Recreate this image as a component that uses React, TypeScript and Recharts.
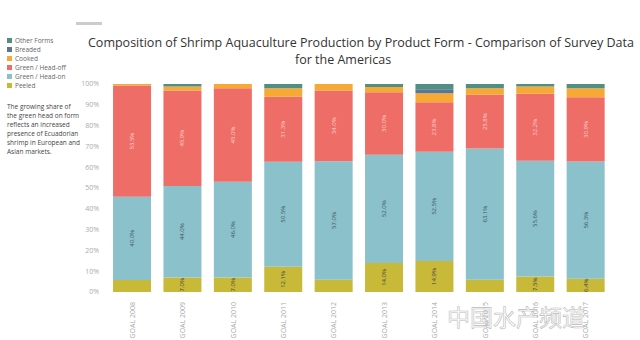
import { BarChart, Bar, XAxis, YAxis, LabelList } from "recharts";

const years = ["GOAL 2008", "GOAL 2009", "GOAL 2010", "GOAL 2011", "GOAL 2012", "GOAL 2013", "GOAL 2014", "GOAL 2015", "GOAL 2016", "GOAL 2017"];
const peeled = [5.8, 7.0, 7.0, 12.1, 5.9, 14.0, 14.9, 5.9, 7.5, 6.4];
const peeledLabels = ["", "7.0%", "7.0%", "12.1%", "", "14.0%", "14.9%", "", "7.5%", "6.4%"];
const headOn = [40.0, 44.0, 46.0, 50.5, 57.0, 52.0, 52.5, 63.1, 55.6, 56.3];
const headOff = [53.5, 45.9, 45.0, 31.3, 34.0, 30.0, 23.8, 25.8, 32.2, 30.9];
const cooked = [0.7, 1.9, 2.0, 4.1, 3.1, 2.5, 4.3, 3.2, 3.5, 4.3];
const breaded = [0, 0, 0, 0, 0, 0, 2.0, 0, 0, 0];
const otherForms = [0, 1.2, 0, 2.0, 0, 1.5, 2.5, 2.0, 1.2, 2.1];
const yTicks = [0, 10, 20, 30, 40, 50, 60, 70, 80, 90, 100];

const legend = [
  { name: "Other Forms", color: "#4f8f84" },
  { name: "Breaded", color: "#5b7595" },
  { name: "Cooked", color: "#f6a935" },
  { name: "Green / Head-off", color: "#ee6d67" },
  { name: "Green / Head-on", color: "#8bc1cb" },
  { name: "Peeled", color: "#c8b939" },
];

const note = [
  "The growing share of",
  "the green head on form",
  "reflects an increased",
  "presence of Ecuadorian",
  "shrimp in European and",
  "Asian markets.",
];

const data = years.map((year, i) => ({
  year,
  peeled: peeled[i],
  peeledLabel: peeledLabels[i],
  headOn: headOn[i],
  headOff: headOff[i],
  cooked: cooked[i],
  breaded: breaded[i],
  otherForms: otherForms[i],
}));

const FONT = "'Open Sans', sans-serif";

// rotated label in the middle of a bar segment
const segLabel = (color: string, fmt: (v: any) => string) => (props: any) => {
  const { x, y, width, height, value } = props;
  const text = fmt(value);
  if (!text) return null;
  const cx = x + width / 2;
  const cy = y + height / 2;
  return (
    <text
      x={cx}
      y={cy}
      transform={`rotate(-90, ${cx}, ${cy})`}
      textAnchor="middle"
      dominantBaseline="central"
      fontSize={6}
      fontFamily={FONT}
      fill={color}
    >
      {text}
    </text>
  );
};

const YearTick = (props: any) => {
  const { x, y, payload } = props;
  return (
    <text
      x={x}
      y={y + 2}
      transform={`rotate(-90, ${x}, ${y + 2})`}
      textAnchor="end"
      dominantBaseline="central"
      fontSize={7}
      fontFamily={FONT}
      fill="#aaa"
    >
      {payload.value}
    </text>
  );
};

export default function App() {
  return (
    <div style={{ position: "absolute", left: 0, top: 0, width: 640, height: 340, background: "#fff", fontFamily: FONT }}>
      <div style={{ position: "absolute", left: 76, top: 22, width: 26, height: 3, background: "#ccc" }} />
      <div style={{ position: "absolute", left: 0, top: 35, width: 640, fontSize: 12.5, color: "#333", lineHeight: "16px" }}>
        <div style={{ position: "absolute", left: 88, top: 0, whiteSpace: "nowrap" }}>
          Composition of Shrimp Aquaculture Production by Product Form - Comparison of Survey Data
        </div>
        <div style={{ position: "absolute", left: 295, top: 17, whiteSpace: "nowrap" }}>for the Americas</div>
      </div>
      <div style={{ position: "absolute", left: 7, top: 36 }}>
        {legend.map((l) => (
          <div key={l.name} style={{ display: "flex", alignItems: "center", height: 9, fontSize: 6.5, color: "#666" }}>
            <div style={{ width: 5, height: 5, background: l.color, marginRight: 3 }} />
            <span>{l.name}</span>
          </div>
        ))}
      </div>
      <div style={{ position: "absolute", left: 7, top: 102, fontSize: 6.5, color: "#444", lineHeight: "9px" }}>
        {note.map((t) => (
          <div key={t}>{t}</div>
        ))}
      </div>
      <BarChart
        width={640}
        height={340}
        data={data}
        margin={{ top: 84, right: 29, bottom: 0, left: 77 }}
        barCategoryGap="12%"
        style={{ position: "absolute", left: 0, top: 0 }}
      >
        <XAxis dataKey="year" axisLine={false} tickLine={false} height={48} interval={0} tick={<YearTick />} />
        <YAxis
          domain={[0, 100]}
          ticks={yTicks}
          width={30}
          axisLine={false}
          tickLine={false}
          tickFormatter={(v) => `${v}%`}
          tick={{ fontSize: 7, fill: "#aaa", fontFamily: FONT }}
        />
        <Bar dataKey="peeled" stackId="a" fill="#c8b939" isAnimationActive={false}>
          <LabelList dataKey="peeledLabel" content={segLabel("#444", (v) => v)} />
        </Bar>
        <Bar dataKey="headOn" stackId="a" fill="#8bc1cb" isAnimationActive={false}>
          <LabelList dataKey="headOn" content={segLabel("#3d5560", (v) => `${Number(v).toFixed(1)}%`)} />
        </Bar>
        <Bar dataKey="headOff" stackId="a" fill="#ee6d67" isAnimationActive={false}>
          <LabelList dataKey="headOff" content={segLabel("#fbd3cf", (v) => `${Number(v).toFixed(1)}%`)} />
        </Bar>
        <Bar dataKey="cooked" stackId="a" fill="#f6a935" isAnimationActive={false} />
        <Bar dataKey="breaded" stackId="a" fill="#5b7595" isAnimationActive={false} />
        <Bar dataKey="otherForms" stackId="a" fill="#4f8f84" isAnimationActive={false} />
      </BarChart>
      <div
        style={{
          position: "absolute",
          left: 447,
          top: 302,
          fontSize: 23,
          lineHeight: "28px",
          color: "rgba(255,255,255,0.6)",
          WebkitTextStroke: "0.6px #bbb",
          fontFamily: "'Noto Sans CJK SC', sans-serif",
          whiteSpace: "nowrap",
        }}
      >
        中国水产频道
      </div>
    </div>
  );
}
